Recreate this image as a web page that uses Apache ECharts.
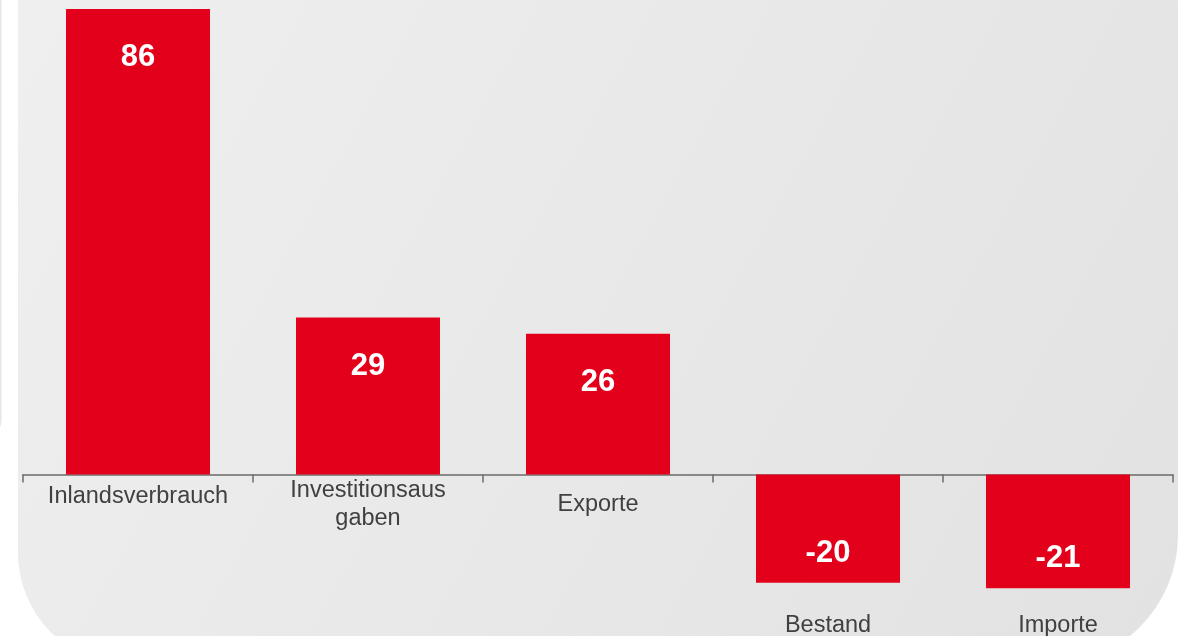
<!DOCTYPE html>
<html>
<head>
<meta charset="utf-8">
<script src="https://cdn.jsdelivr.net/npm/echarts@6/dist/echarts.min.js"></script>
<style>
  html, body { margin: 0; padding: 0; background: #ffffff; }
  #chart { width: 1179px; height: 636px; }
</style>
</head>
<body>
<div id="chart"></div>
<script>
// data
const categories = ['Inlandsverbrauch', 'Investitionsaus\ngaben', 'Exporte', 'Bestand', 'Importe'];
const values = [86, 29, 26, -20, -21];

const chart = echarts.init(document.getElementById('chart'));

const barData = values.map((v) => ({
  value: v,
  label: v >= 0
    ? { position: 'insideTop', distance: 33 }
    : { position: 'insideBottom', distance: 14 }
}));

// first category label sits a bit higher in the original
const catData = categories.map((c, i) =>
  i === 0 ? { value: c, textStyle: { verticalAlign: 'bottom', lineHeight: 16 } } : c
);

const labelFont = {
  fontSize: 23.5,
  color: '#404040',
  lineHeight: 28,
  fontFamily: 'Liberation Sans, Arial, sans-serif',
  verticalAlign: 'middle'
};

const option = {
  animation: false,
  graphic: [
    {
      type: 'rect',
      z: -10,
      silent: true,
      shape: { x: -50, y: -100, width: 51.5, height: 538, r: [0, 0, 18, 18] },
      style: { fill: '#e6e6e6' }
    },
    {
      type: 'rect',
      z: -10,
      silent: true,
      shape: { x: 18, y: -200, width: 1160, height: 865, r: [0, 0, 130, 112] },
      style: {
        fill: new echarts.graphic.LinearGradient(18, 0, 1178, 636, [
          { offset: 0, color: '#efefef' },
          { offset: 1, color: '#e2e2e2' }
        ], true)
      }
    }
  ],
  // the grid ends at the zero line; negative bars hang below it unclipped
  grid: { left: 23, right: 6, top: 9, bottom: 161.5, containLabel: false, outerBoundsMode: 'none' },
  xAxis: [
    {
      type: 'category',
      data: catData,
      axisLine: { onZero: false, lineStyle: { color: '#6b6b6b', width: 1.5 } },
      axisTick: { show: true, length: 8, lineStyle: { color: '#6b6b6b', width: 1.5 } },
      axisLabel: Object.assign({
        interval: 0,
        margin: 30,
        hideOverlap: false,
        formatter: (val, idx) => (values[idx] >= 0 ? val : '')
      }, labelFont)
    },
    {
      // labels of the negative bars, hung below the bars
      type: 'category',
      data: categories,
      position: 'bottom',
      axisLine: { show: false, onZero: false },
      axisTick: { show: false },
      axisLabel: Object.assign({
        interval: 0,
        margin: 151,
        hideOverlap: false,
        formatter: (val, idx) => (values[idx] < 0 ? val : '')
      }, labelFont)
    }
  ],
  yAxis: {
    type: 'value',
    min: 0,
    max: 86,
    show: false,
    splitLine: { show: false }
  },
  series: [
    {
      type: 'bar',
      data: barData,
      barWidth: 144,
      clip: false,
      itemStyle: { color: '#e2001a' },
      label: {
        show: true,
        color: '#ffffff',
        fontWeight: 'bold',
        fontSize: 31,
        fontFamily: 'Liberation Sans, Arial, sans-serif'
      }
    }
  ]
};

chart.setOption(option);
</script>
</body>
</html>
